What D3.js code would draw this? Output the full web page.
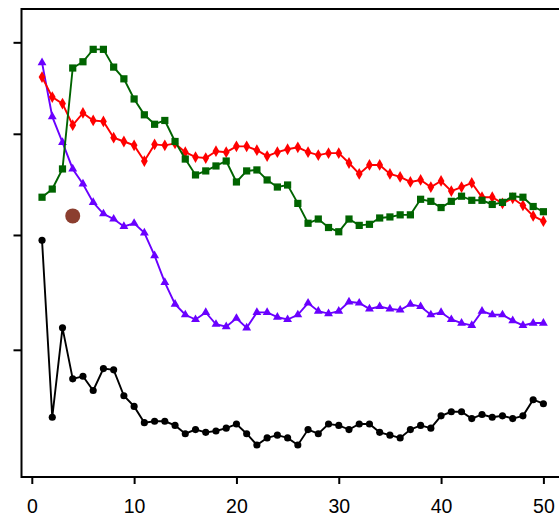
<!DOCTYPE html>
<html>
<head>
<meta charset="utf-8">
<script src="https://cdn.jsdelivr.net/npm/d3@7"></script>
<style>
  body { margin: 0; background: #fff; }
  svg { display: block; }
</style>
</head>
<body>
<svg id="chart" width="559" height="517"></svg>
<script>
// x positions 1..50
var steps = d3.range(1, 51);

// series values (sqrt-scaled y axis)
var blackVals = [3.95, 2.48, 3.18, 2.77, 2.79, 2.68, 2.85, 2.84, 2.64, 2.56,
  2.44, 2.45, 2.45, 2.42, 2.36, 2.39, 2.37, 2.38, 2.40, 2.43,
  2.36, 2.28, 2.33, 2.35, 2.33, 2.28, 2.39, 2.36, 2.43, 2.42,
  2.39, 2.43, 2.43, 2.37, 2.35, 2.33, 2.39, 2.42, 2.40, 2.49,
  2.52, 2.52, 2.47, 2.50, 2.48, 2.49, 2.47, 2.49, 2.61, 2.58];

var purpleVals = [5.77, 5.18, 4.91, 4.64, 4.49, 4.31, 4.20, 4.15, 4.08, 4.11,
  4.02, 3.81, 3.57, 3.38, 3.29, 3.25, 3.31, 3.21, 3.19, 3.26,
  3.18, 3.31, 3.31, 3.27, 3.25, 3.29, 3.39, 3.32, 3.30, 3.32,
  3.40, 3.39, 3.34, 3.36, 3.34, 3.33, 3.38, 3.36, 3.29, 3.31,
  3.25, 3.22, 3.20, 3.32, 3.29, 3.29, 3.24, 3.20, 3.22, 3.22];

var redVals = [5.61, 5.39, 5.32, 5.09, 5.22, 5.14, 5.13, 4.96, 4.92, 4.88,
  4.72, 4.89, 4.88, 4.90, 4.81, 4.76, 4.75, 4.82, 4.81, 4.87,
  4.87, 4.83, 4.77, 4.81, 4.84, 4.86, 4.81, 4.78, 4.80, 4.80,
  4.70, 4.59, 4.68, 4.68, 4.59, 4.56, 4.51, 4.53, 4.46, 4.52,
  4.42, 4.46, 4.50, 4.36, 4.36, 4.30, 4.35, 4.28, 4.18, 4.13];

var greenVals = [4.36, 4.44, 4.64, 5.71, 5.78, 5.92, 5.92, 5.72, 5.59, 5.37,
  5.20, 5.10, 5.14, 4.92, 4.74, 4.58, 4.62, 4.67, 4.72, 4.51,
  4.62, 4.63, 4.53, 4.46, 4.48, 4.30, 4.11, 4.15, 4.07, 4.03,
  4.15, 4.09, 4.10, 4.16, 4.17, 4.19, 4.19, 4.34, 4.32, 4.26,
  4.32, 4.37, 4.33, 4.33, 4.29, 4.31, 4.37, 4.36, 4.27, 4.22];

// single highlighted point
var extraPoint = { x: 4, y: 4.18 };

var xTicks = [0, 10, 20, 30, 40, 50];
var yTicks = [3, 4, 5, 6];

var svg = d3.select("#chart");

var boxLeft = 21.5, boxTop = 9, boxBottom = 477;

var x = d3.scaleLinear().domain([0, 50]).range([31.8, 543.4]);
var y = d3.scaleSqrt().domain([2.06, 6.387]).range([boxBottom, boxTop]);

// frame (right edge runs off the picture)
svg.append("path")
  .attr("d", "M600," + boxTop + "H" + boxLeft + "V" + boxBottom + "H600")
  .attr("fill", "none")
  .attr("stroke", "#000")
  .attr("stroke-width", 2);

// axes
var xAxis = svg.append("g")
  .attr("transform", "translate(0," + boxBottom + ")")
  .call(d3.axisBottom(x).tickValues(xTicks).tickSize(7).tickPadding(15.5));
xAxis.select(".domain").remove();
xAxis.selectAll("line").attr("stroke-width", 2);
xAxis.selectAll("text")
  .style("font-family", "'Liberation Sans', Arial, sans-serif")
  .style("font-size", "19.5px")
  .attr("fill", "#000");

var yAxis = svg.append("g")
  .attr("transform", "translate(" + boxLeft + ",0)")
  .call(d3.axisLeft(y).tickValues(yTicks).tickSize(8).tickFormat(""));
yAxis.select(".domain").remove();
yAxis.selectAll("line").attr("stroke-width", 2);

var line = d3.line()
  .x((d, i) => x(steps[i]))
  .y(d => y(d));

function drawSeries(vals, color, symbol, size) {
  svg.append("path")
    .datum(vals)
    .attr("d", line)
    .attr("fill", "none")
    .attr("stroke", color)
    .attr("stroke-width", 1.9);

  svg.append("g").selectAll("path")
    .data(vals)
    .join("path")
    .attr("transform", (d, i) => "translate(" + x(steps[i]) + "," + y(d) + ")")
    .attr("d", d3.symbol().type(symbol).size(size))
    .attr("fill", color);
}

drawSeries(blackVals, "#000000", d3.symbolCircle, 40);
drawSeries(purpleVals, "#6a00ff", d3.symbolTriangle, 34);
drawSeries(redVals, "#ff0000", d3.symbolDiamond, 40);
drawSeries(greenVals, "#006400", d3.symbolSquare, 52);

svg.append("circle")
  .attr("cx", x(extraPoint.x))
  .attr("cy", y(extraPoint.y))
  .attr("r", 7.5)
  .attr("fill", "#8b3e2f");
</script>
</body>
</html>
